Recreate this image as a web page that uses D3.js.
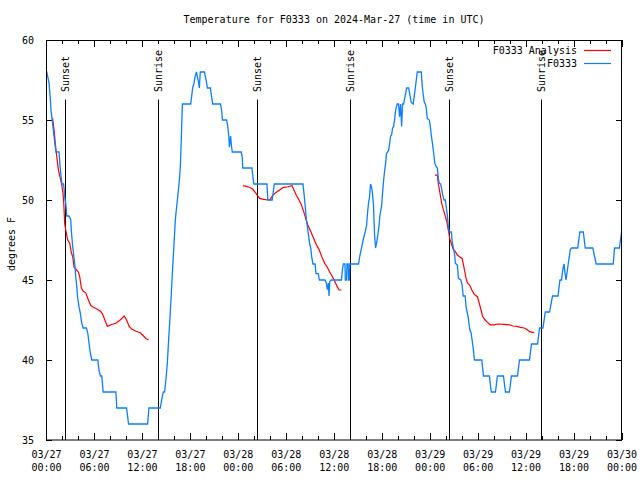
<!DOCTYPE html>
<html><head><meta charset="utf-8">
<script src="https://cdn.jsdelivr.net/npm/d3@7"></script>
<style>
body{margin:0;background:#fff}
text{font-family:"DejaVu Sans Mono",monospace;font-size:10px;fill:#000}
</style>
</head><body>
<svg id="chart" width="640" height="480"></svg>
<script>
// ---------- DATA (hours since 2024-03-27 00:00 UTC, degrees F) ----------
const title = "Temperature for F0333 on 2024-Mar-27 (time in UTC)";
const yLabel = "degrees F";
const yTicks = [35, 40, 45, 50, 55, 60];
const seriesNames = ["F0333 Analysis", "F0333"];

const sunEvents = [
  {h: 2.38, label: "Sunset"}, {h: 14.05, label: "Sunrise"},
  {h: 26.44, label: "Sunset"}, {h: 38.07, label: "Sunrise"},
  {h: 50.38, label: "Sunset"}, {h: 61.93, label: "Sunrise"}
];

const observed = [
 [0.0,58],[0.1,58],[0.38,57.3],[0.5,56.6],[0.63,55.6],[0.75,55.1],[1.0,54],[1.25,53],[1.63,53],
 [1.76,52.1],[1.88,51.5],[2.0,51],[2.2,51],[2.38,50],[2.47,49.8],[2.6,49],[2.89,49],[3.1,48.75],
 [3.17,48.1],[3.3,47.3],[3.43,46.7],[3.6,46],[3.72,45.2],[3.85,44.6],[3.97,43.85],[4.14,43.3],
 [4.3,42.9],[4.47,42.3],[4.64,42],[5.06,42],[5.23,41.67],[5.39,41],[5.56,40.4],[5.73,40],[6.48,40],
 [6.65,39.3],[6.81,39],[6.98,39],[7.15,38],[8.74,38],[8.86,37],[10.08,37],[10.33,36],[12.71,36],
 [12.88,37],[14.3,37],[14.5,37.6],[14.68,38],[14.84,38],[15.0,38.75],[15.18,39.8],[15.34,41.25],
 [15.52,42.7],[15.68,44.2],[15.85,45.8],[16.02,47.3],[16.18,48.75],[16.35,49.6],[16.52,50.4],
 [16.68,51.2],[16.81,52.1],[16.93,53.85],[17.06,56],[18.1,56],[18.2,56.4],[18.35,57],[18.52,57.3],
 [18.65,57.7],[18.82,58],[18.94,57.7],[19.07,57.4],[19.19,57],[19.3,58],[19.53,58],[19.82,58],
 [20.03,57.5],[20.2,57],[20.57,57],[20.7,56.5],[20.86,56],[21.83,56],[21.95,55.7],[22.08,55],
 [22.6,55],[22.74,54.6],[22.87,54],[22.95,53.3],[23.03,53.7],[23.1,54],[23.18,53.5],[23.3,53],
 [24.42,53],[24.55,52.7],[24.62,52],[25.76,52],[25.88,51.5],[26.0,51],[27.64,51],[27.76,50],
 [28.3,50],[28.56,51],[32.15,51],[32.28,50.4],[32.45,49.5],[32.58,48.75],[32.74,48.2],[32.87,47.7],
 [33.0,47.2],[33.12,47],[33.24,46.46],[33.4,46],[33.66,46],[33.78,45.4],[34.07,45.4],[34.2,45],
 [34.9,45],[35.08,44.8],[35.2,44.4],[35.33,44.8],[35.41,44],[35.5,44.9],[35.7,45],[36.96,45],
 [37.1,45.7],[37.2,46],[37.4,46],[37.45,45],[37.6,45],[37.65,46],[37.8,46],[37.85,45],[37.95,45],
 [38.0,46],[39.1,46],[39.26,46.5],[39.43,46.9],[39.68,47.5],[39.93,48],[40.1,48.4],[40.23,49.2],
 [40.35,49.8],[40.48,50.2],[40.6,51],[40.73,50.8],[40.85,50.4],[40.98,49.6],[41.1,47.9],[41.23,47],
 [41.36,47.3],[41.48,47.7],[41.65,48.3],[41.77,49],[41.98,49.6],[42.1,50.4],[42.24,51.25],
 [42.36,51.8],[42.49,52.3],[42.6,52.9],[42.86,53.1],[42.99,53.5],[43.11,54],[43.24,54.06],
 [43.36,54.5],[43.49,54.6],[43.61,55],[43.74,55.6],[43.94,56],[44.11,56],[44.23,55.2],[44.36,56],
 [44.49,54.6],[44.61,56],[44.74,56],[44.95,56.56],[45.12,57],[45.37,57],[45.53,56.56],[45.69,56.1],
 [45.94,56],[46.1,56.6],[46.25,57.2],[46.45,58],[46.95,58],[47.08,57.08],[47.2,56.56],[47.33,56.1],
 [47.46,56],[47.58,55.7],[47.7,55.1],[47.96,55],[48.08,54.6],[48.2,54.06],[48.33,53.6],[48.46,53.1],
 [48.64,52.3],[48.8,52.1],[48.96,52],[49.08,51.35],[49.21,51.04],[49.38,51],[49.5,50.7],[49.63,50.3],
 [49.8,50],[49.96,50],[50.09,49.5],[50.21,49.06],[50.34,48.3],[50.46,48],[50.72,48],[50.84,47.3],
 [50.97,47],[51.1,46.67],[51.22,46.04],[51.47,45.94],[51.6,45.1],[51.9,45],[52.06,44.7],[52.19,44],
 [52.44,44],[52.56,43.3],[52.81,42.7],[53.02,41.9],[53.19,41.67],[53.31,41.25],[53.48,40.6],
 [53.6,40],[54.52,40],[54.65,39.4],[54.73,39],[55.48,39],[55.65,38.2],[55.73,38],[56.23,38],
 [56.48,39],[57.23,39],[57.48,38],[57.98,38],[58.23,39],[58.98,39],[59.24,40],[60.49,40],[60.74,41],
 [61.5,41],[61.75,42],[62.17,42],[62.47,43],[63.0,43],[63.37,44],[64.05,44],[64.3,45],[64.5,45],
 [64.64,45.6],[64.81,46],[64.94,45.4],[65.06,45],[65.4,46.25],[65.6,46.9],[65.76,47],[66.52,47],
 [66.79,48],[67.22,48],[67.47,47],[68.41,47],[68.62,46.5],[68.83,46],[70.96,46],[71.13,47],
 [71.74,47],[72.0,48]
];

const analysis1 = [
 [0.79,55.1],[0.83,55.1],[1.05,54.2],[1.17,53.5],[1.3,52.9],[1.55,51.9],[1.72,51.5],[1.95,51],
 [2.13,50.4],[2.22,49.8],[2.34,48.5],[2.55,47.9],[2.72,47.5],[2.97,47.3],[3.17,46.7],[3.34,46.46],
 [3.51,45.8],[3.72,45.7],[4.05,45.5],[4.22,45.2],[4.43,44.5],[4.68,44.3],[4.98,44.2],[5.27,43.8],
 [5.6,43.4],[5.93,43.3],[6.31,43.2],[6.77,43.06],[7.06,42.9],[7.36,42.5],[7.69,42.1],[8.11,42.2],
 [8.74,42.3],[9.28,42.5],[9.78,42.75],[10.08,42.5],[10.41,42.1],[10.7,41.94],[11.25,41.8],
 [11.79,41.7],[12.08,41.56],[12.5,41.35],[12.83,41.25]
];
const analysis2 = [
 [24.63,50.9],[25.05,50.85],[25.46,50.8],[25.88,50.67],[26.3,50.4],[26.72,50.1],[27.22,50.04],
 [27.76,50],[28.06,50.04],[28.39,50.3],[28.73,50.46],[29.14,50.6],[29.64,50.77],[30.27,50.83],
 [30.77,50.9],[30.98,50.67],[31.32,50.3],[31.65,50],[31.95,49.7],[32.24,49.27],[32.49,48.85],
 [32.78,48.4],[33.07,48.1],[33.49,47.6],[33.83,47.2],[34.16,46.9],[34.5,46.46],[34.87,46.04],
 [35.16,45.83],[35.5,45.5],[35.84,45.2],[36.13,44.9],[36.42,44.6],[36.67,44.375],[36.96,44.375]
];
const analysis3 = [
 [48.67,51.56],[48.96,51.56],[49.08,51.04],[49.3,50.4],[49.5,49.8],[49.71,49.4],[49.92,49.06],
 [50.14,48.65],[50.34,48.1],[50.55,47.5],[50.76,47.2],[50.97,46.9],[51.22,46.77],[51.47,46.56],
 [51.72,46.46],[52.06,46.35],[52.23,45.94],[52.4,45.5],[52.56,45.1],[52.73,44.8],[52.98,44.7],
 [53.28,44.375],[53.57,44.1],[53.98,43.96],[54.23,43.5],[54.44,43.1],[54.6,42.75],[54.94,42.5],
 [55.23,42.35],[55.57,42.2],[56.07,42.2],[56.48,42.25],[57.24,42.23],[57.99,42.2],[58.41,42.125],
 [58.92,42.1],[59.33,42.04],[59.83,42.0],[60.17,41.9],[60.5,41.77],[60.8,41.73],[61.09,41.73]
];

// ---------- CHART ----------
const start = Date.UTC(2024, 2, 27, 0, 0);
const toDate = h => new Date(start + h * 3600e3);
const end = toDate(72);

const W = 640, H = 480;
const L = 46, R = 621.5, T = 40, B = 440;
const svg = d3.select("#chart");

const x = d3.scaleUtc().domain([toDate(0), end]).range([L, R]);
const y = d3.scaleLinear().domain([35, 60]).range([B, T]);

const minorTicks = d3.utcHour.every(2).range(toDate(0), toDate(72.01));
const majorTicks = d3.utcHour.every(6).range(toDate(0), toDate(72.01));

// minor ticks (bottom, top)
svg.append("g").attr("transform", `translate(0,${B})`)
  .call(d3.axisBottom(x).tickValues(minorTicks).tickSizeInner(-4).tickSizeOuter(0).tickFormat(""))
  .call(g => g.select(".domain").remove());
svg.append("g").attr("transform", `translate(0,${T})`)
  .call(d3.axisTop(x).tickValues(minorTicks).tickSizeInner(-4).tickSizeOuter(0).tickFormat(""))
  .call(g => g.select(".domain").remove());
// major ticks with labels
const fmtDate = d3.utcFormat("%m/%d"), fmtTime = d3.utcFormat("%H:%M");
svg.append("g").attr("transform", `translate(0,${B})`)
  .call(d3.axisBottom(x).tickValues(majorTicks).tickSizeInner(-7).tickSizeOuter(0).tickFormat(fmtDate))
  .call(g => g.select(".domain").remove())
  .call(g => g.selectAll(".tick text").each(function(d) {
    const t = d3.select(this);
    t.text(null).attr("y", null).attr("dy", null).attr("font-size", null).attr("font-family", null);
    t.append("tspan").attr("x", 0).attr("y", 17.5).text(fmtDate(d));
    t.append("tspan").attr("x", 0).attr("y", 30.5).text(fmtTime(d));
  }));
svg.append("g").attr("transform", `translate(0,${T})`)
  .call(d3.axisTop(x).tickValues(majorTicks).tickSizeInner(-7).tickSizeOuter(0).tickFormat(""))
  .call(g => g.select(".domain").remove());

// y ticks
svg.append("g").attr("transform", `translate(${L},0)`)
  .call(d3.axisLeft(y).tickValues(yTicks).tickSizeInner(-6).tickSizeOuter(0).tickPadding(12))
  .call(g => g.select(".domain").remove())
  .call(g => g.selectAll(".tick text").attr("font-size", null).attr("font-family", null));
svg.append("g").attr("transform", `translate(${R},0)`)
  .call(d3.axisRight(y).tickValues(yTicks).tickSizeInner(-6).tickSizeOuter(0).tickFormat(""))
  .call(g => g.select(".domain").remove());

svg.selectAll(".tick line").attr("stroke", "#000").attr("shape-rendering", "crispEdges");

// sunrise/sunset lines
const sun = svg.append("g");
sun.selectAll("line").data(sunEvents).join("line")
  .attr("x1", d => Math.round(x(toDate(d.h))) + 0.5).attr("x2", d => Math.round(x(toDate(d.h))) + 0.5)
  .attr("y1", 99.5).attr("y2", B)
  .attr("stroke", "#000").attr("stroke-width", 1);
sun.selectAll("text").data(sunEvents).join("text")
  .attr("transform", d => `translate(${x(toDate(d.h)) + 4},92) rotate(-90)`)
  .attr("text-anchor", "start")
  .text(d => d.label);

// series
const line = d3.line().x(d => x(toDate(d[0]))).y(d => y(d[1]));
const blue = "#0a7fff", red = "#ff0000";
[analysis1, analysis2, analysis3].forEach(seg => {
  svg.append("path").datum(seg).attr("d", line)
    .attr("fill", "none").attr("stroke", red).attr("stroke-width", 1.2);
});
svg.append("path").datum(observed).attr("d", line)
  .attr("fill", "none").attr("stroke", blue).attr("stroke-width", 1.3).attr("stroke-linejoin", "miter");

// border
svg.append("rect").attr("x", L + 0.5).attr("y", T + 0.5).attr("width", R - L - 0.5).attr("height", B - T - 0.5)
  .attr("fill", "none").attr("stroke", "#000").attr("stroke-width", 1);

// title and y label
svg.append("text").attr("x", 334).attr("y", 22.5).attr("text-anchor", "middle").text(title);
svg.append("text").attr("transform", "translate(14.5,244) rotate(-90)").attr("text-anchor", "middle").text(yLabel);

// legend
const legend = svg.append("g");
const legendColors = [red, blue];
seriesNames.forEach((name, i) => {
  const ly = 50 + i * 13;
  legend.append("text").attr("x", 577).attr("y", ly + 3.5).attr("text-anchor", "end").text(name);
  legend.append("line").attr("x1", 584).attr("x2", 611).attr("y1", ly + 0.5).attr("y2", ly + 0.5)
    .attr("stroke", legendColors[i]).attr("stroke-width", 1.2);
});
</script>
</body></html>
